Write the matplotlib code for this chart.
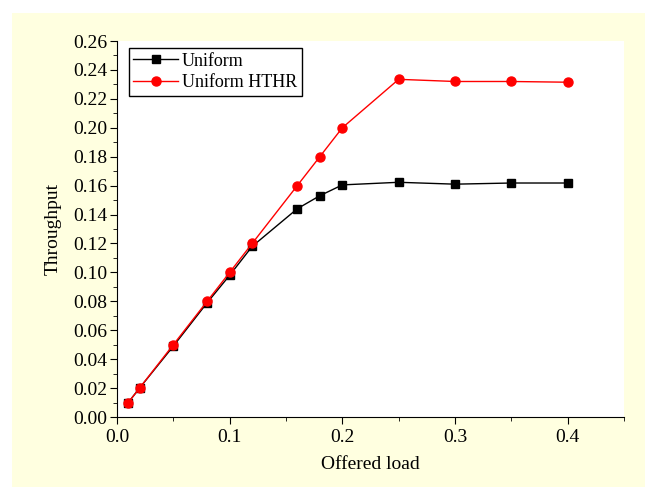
import matplotlib.pyplot as plt
from matplotlib.patches import Rectangle
from matplotlib.ticker import MultipleLocator, FormatStrFormatter

# offered load values
load = [0.01, 0.02, 0.05, 0.08, 0.10, 0.12, 0.16, 0.18, 0.20, 0.25, 0.30, 0.35, 0.40]

# throughput per scheme
uniform = [0.010, 0.020, 0.049, 0.079, 0.098, 0.118, 0.144, 0.153, 0.1605, 0.1623, 0.161, 0.1618, 0.1618]
uniform_hthr = [0.010, 0.020, 0.050, 0.080, 0.100, 0.120, 0.160, 0.180, 0.200, 0.2335, 0.232, 0.232, 0.2315]

plt.rcParams['font.family'] = ['Liberation Serif', 'DejaVu Serif']

fig = plt.figure(figsize=(6.45, 4.87), dpi=100)
fig.patch.set_facecolor('white')
# light yellow panel behind the plot
fig.patches.append(Rectangle((12/645, 0), 1 - 12/645, 1 - 13/487,
                             transform=fig.transFigure, facecolor='#ffffe0',
                             edgecolor='none', zorder=-10))

ax = fig.add_axes([117/645, 1 - 417/487, (624 - 117)/645, (417 - 41)/487])
ax.set_facecolor('white')

ax.plot(load, uniform, color='black', marker='s', markersize=5.2, linewidth=1,
        label='Uniform')
ax.plot(load, uniform_hthr, color='red', marker='o', markersize=6.5, linewidth=1,
        label='Uniform HTHR')

ax.set_xlim(0, 0.45)
ax.set_ylim(0, 0.26)
ax.xaxis.set_major_locator(MultipleLocator(0.1))
ax.xaxis.set_minor_locator(MultipleLocator(0.05))
ax.yaxis.set_major_locator(MultipleLocator(0.02))
ax.yaxis.set_minor_locator(MultipleLocator(0.01))
ax.xaxis.set_major_formatter(FormatStrFormatter('%.1f'))
ax.yaxis.set_major_formatter(FormatStrFormatter('%.2f'))

for side in ['top', 'right']:
    ax.spines[side].set_visible(False)
ax.tick_params(which='both', direction='out', labelsize=14)
ax.tick_params(which='major', length=5, pad=2)
ax.tick_params(axis='x', which='major', pad=4)
ax.tick_params(which='minor', length=3)

ax.set_xlabel('Offered load', fontsize=14, labelpad=7)
ax.set_ylabel('Throughput', fontsize=14, labelpad=8)

leg = ax.legend(loc='upper left', bbox_to_anchor=(0.012, 0.995), fontsize=13,
                fancybox=False, edgecolor='black', framealpha=1,
                handlelength=2.5, borderaxespad=0.3, borderpad=0.25,
                labelspacing=0.25, handletextpad=0.2)
leg.get_frame().set_linewidth(1)

fig.savefig('out.png', dpi=100)
